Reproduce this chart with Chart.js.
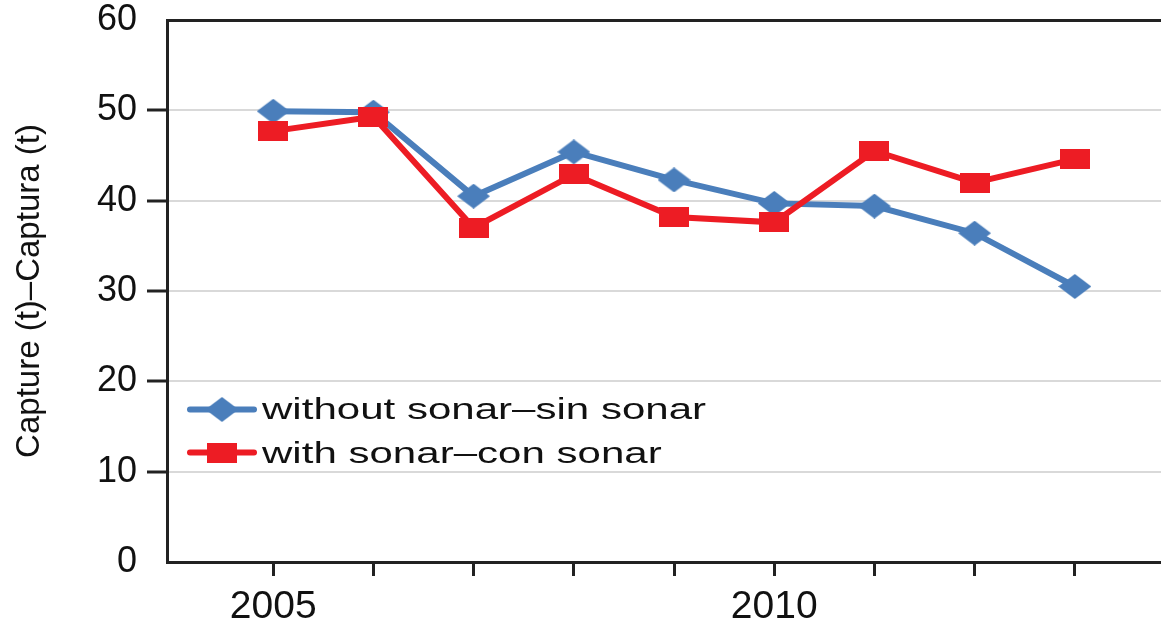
<!DOCTYPE html>
<html><head><meta charset="utf-8">
<script src="https://cdn.jsdelivr.net/npm/chart.js@4.4.0/dist/chart.umd.min.js"></script>
<style>html,body{margin:0;padding:0;background:#fff;}canvas{display:block;}</style>
</head><body>
<canvas id="c" width="1161" height="623"></canvas>
<script>
const years = [2005, 2006, 2007, 2008, 2009, 2010, 2011, 2012, 2013];
const withoutSonar = [49.9, 49.8, 40.5, 45.4, 42.3, 39.7, 39.4, 36.4, 30.5];
const withSonar = [47.7, 49.3, 37.0, 42.9, 38.2, 37.6, 45.5, 42.0, 44.6];
const seriesLabels = ['without sonar–sin sonar', 'with sonar–con sonar'];
const xTickLabels = [2005, 2010];
const yTicks = [0, 10, 20, 30, 40, 50, 60];
const yTitle = 'Capture (t)–Captura (t)';

const BLUE = '#4a7ebb', RED = '#ed1c24', AXIS = '#222222', GRID = '#d9d9d9';
const FONT = "'Liberation Sans', Arial, sans-serif";

function makeDiamond(w, h, color) {
  const c = document.createElement('canvas'); c.width = w; c.height = h;
  const g = c.getContext('2d'); g.fillStyle = color;
  g.beginPath(); g.moveTo(w / 2, 0); g.lineTo(w, h / 2); g.lineTo(w / 2, h); g.lineTo(0, h / 2); g.closePath(); g.fill();
  return c;
}
function makeRect(w, h, color) {
  const c = document.createElement('canvas'); c.width = w; c.height = h;
  const g = c.getContext('2d'); g.fillStyle = color; g.fillRect(0, 0, w, h);
  return c;
}
const diamondImg = makeDiamond(33, 25, BLUE);
const rectImg = makeRect(30, 20, RED);

const legendPlugin = {
  id: 'insideLegend',
  afterDraw(chart) {
    const ctx = chart.ctx, a = chart.chartArea;
    const rows = [
      { label: seriesLabels[0], color: BLUE, img: diamondImg, cy: 409.5, base: 419 },
      { label: seriesLabels[1], color: RED, img: rectImg, cy: 452.5, base: 463 }
    ];
    ctx.save();
    rows.forEach(r => {
      ctx.strokeStyle = r.color; ctx.lineWidth = 6; ctx.lineCap = 'round';
      ctx.beginPath(); ctx.moveTo(a.left + 23, r.cy); ctx.lineTo(a.left + 87, r.cy); ctx.stroke();
      ctx.drawImage(r.img, a.left + 55 - r.img.width / 2, r.cy - r.img.height / 2);
      ctx.save();
      ctx.translate(a.left + 95, r.base);
      ctx.scale(1.45, 1);
      ctx.font = '29px ' + FONT; ctx.fillStyle = '#111'; ctx.textBaseline = 'alphabetic';
      ctx.fillText(r.label, 0, 0);
      ctx.restore();
    });
    ctx.restore();
  }
};

new Chart(document.getElementById('c'), {
  type: 'line',
  data: {
    datasets: [
      { label: seriesLabels[0], data: years.map((y, i) => ({ x: y, y: withoutSonar[i] })),
        borderColor: BLUE, backgroundColor: BLUE, borderWidth: 6, tension: 0,
        pointStyle: diamondImg, pointRadius: 10, pointHoverRadius: 10, order: 1 },
      { label: seriesLabels[1], data: years.map((y, i) => ({ x: y, y: withSonar[i] })),
        borderColor: RED, backgroundColor: RED, borderWidth: 6, tension: 0,
        pointStyle: rectImg, pointRadius: 10, pointHoverRadius: 10, order: 0 }
    ]
  },
  options: {
    responsive: false, animation: false,
    layout: { autoPadding: false, padding: { top: 20, right: 0, left: 0, bottom: 0 } },
    plugins: { legend: { display: false }, tooltip: { enabled: false } },
    scales: {
      x: {
        type: 'linear', min: 2003.94, max: 2013.86,
        afterBuildTicks: s => { s.ticks = years.map(v => ({ value: v })); },
        afterFit: s => { s.height = 61; s.paddingLeft = 0; s.paddingRight = 0; },
        grid: { drawOnChartArea: false, drawTicks: true, tickLength: 14, tickColor: AXIS, tickWidth: 3 },
        border: { color: AXIS, width: 3 },
        ticks: { autoSkip: false, maxRotation: 0, padding: 8, color: '#111',
          font: { family: FONT, size: 39 },
          callback: v => xTickLabels.includes(v) ? String(v) : '' }
      },
      y: {
        min: 0, max: 60,
        afterBuildTicks: s => { s.ticks = yTicks.map(v => ({ value: v })); },
        afterFit: s => { s.width = 167; s.paddingTop = 0; s.paddingBottom = 0; },
        grid: {
          color: c => c.tick && c.tick.value === 60 ? AXIS : (c.tick && c.tick.value === 0 ? 'rgba(0,0,0,0)' : GRID),
          lineWidth: c => c.tick && c.tick.value === 60 ? 3 : 2,
          tickLength: 20, tickWidth: 3,
          tickColor: c => c.tick && (c.tick.value === 60 || c.tick.value === 0) ? 'rgba(0,0,0,0)' : AXIS
        },
        border: { color: AXIS, width: 3 },
        ticks: { padding: 10, color: '#111', font: { family: FONT, size: 36 } },
        title: { display: true, text: yTitle, color: '#111', font: { family: FONT, size: 33 }, padding: { top: 10, bottom: 0 } }
      }
    }
  },
  plugins: [legendPlugin]
});
</script>
</body></html>
